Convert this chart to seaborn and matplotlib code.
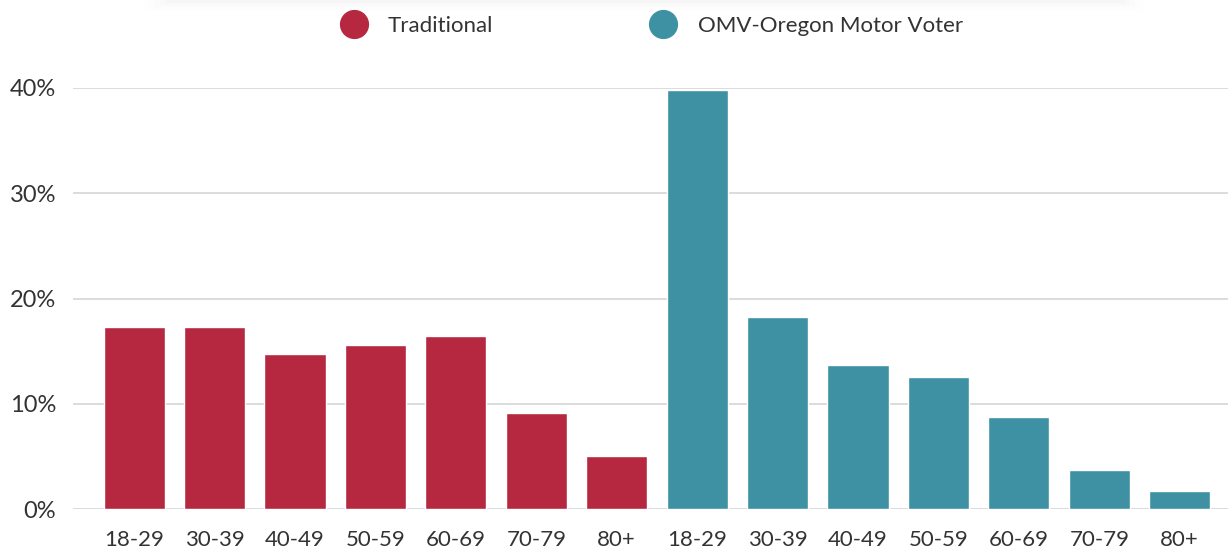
import matplotlib
matplotlib.use("Agg")
import matplotlib.pyplot as plt
from matplotlib.lines import Line2D
import seaborn as sns
import pandas as pd

age_groups = ["18-29", "30-39", "40-49", "50-59", "60-69", "70-79", "80+"]
traditional = [17.3, 17.3, 14.7, 15.6, 16.4, 9.1, 5.0]
omv = [39.8, 18.2, 13.7, 12.5, 8.7, 3.7, 1.7]
series_names = ["Traditional", "OMV-Oregon Motor Voter"]
colors = ["#B5283F", "#3E91A3"]
y_ticks = [0, 10, 20, 30, 40]

rows = []
for name, vals in zip(series_names, [traditional, omv]):
    for age, v in zip(age_groups, vals):
        rows.append({"slot": f"{name}|{age}", "age": age, "group": name, "value": v})
df = pd.DataFrame(rows)

sns.set_theme(style="white")
plt.rcParams["font.family"] = ["Lato", "DejaVu Sans"]

fig = plt.figure(figsize=(12.28, 5.48), dpi=100)

# very faint shadow of the legend box at the very top
for i, a in enumerate([0.012, 0.009, 0.006, 0.004, 0.002]):
    fig.patches.append(plt.Rectangle((165 / 1228 - i * 0.004, 1 - (3 + i * 2) / 548),
                                     (1125 - 165) / 1228 + i * 0.008, 0.05,
                                     transform=fig.transFigure, facecolor="#000000",
                                     alpha=a, edgecolor="none", zorder=0))

ax = fig.add_axes([73 / 1228, 1 - 509 / 548, 1 - 73 / 1228, (509 - 88) / 548])

sns.barplot(data=df, x="slot", y="value", hue="group", palette=colors,
            dodge=False, width=0.76, ax=ax, legend=False, saturation=1)

ax.set_xlim(-0.76, 13.6)
ax.set_ylim(0, 40)
ax.set_yticks(y_ticks)
ax.set_yticklabels([f"{t}%" for t in y_ticks], fontsize=17, color="#333333")
ax.set_xticks(range(len(df)))
ax.set_xticklabels(df["age"], fontsize=16, color="#333333")
ax.tick_params(axis="both", length=0)
ax.tick_params(axis="x", pad=15)
ax.tick_params(axis="y", pad=12)
ax.set_xlabel("")
ax.set_ylabel("")
for s in ax.spines.values():
    s.set_visible(False)
ax.yaxis.grid(True, color="#d6d6d6", linewidth=1.2)
ax.set_axisbelow(True)

handles = [Line2D([0], [0], marker="o", linestyle="none", markersize=20,
                  markerfacecolor=c, markeredgecolor=c) for c in colors]
fig.legend(handles, series_names, loc="center", bbox_to_anchor=(0.527, 1 - 26 / 548),
           ncol=2, frameon=False, fontsize=16, handletextpad=0.55,
           columnspacing=6.65, labelcolor="#333333")

fig.savefig("out.png", dpi=100, facecolor="white")
